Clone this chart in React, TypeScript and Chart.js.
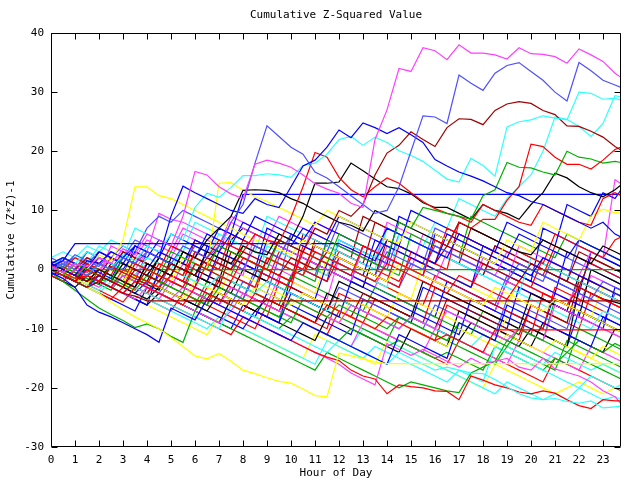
import React, { useEffect, useRef } from "react";
import { Chart, registerables } from "chart.js";

Chart.register(...registerables);

const _ = null;

const hours = [
  0, 0.5, 1, 1.5, 2, 2.5, 3, 3.5, 4, 4.5, 5, 5.5,
  6, 6.5, 7, 7.5, 8, 8.5, 9, 9.5, 10, 10.5, 11, 11.5,
  12, 12.5, 13, 13.5, 14, 14.5, 15, 15.5, 16, 16.5, 17, 17.5,
  18, 18.5, 19, 19.5, 20, 20.5, 21, 21.5, 22, 22.5, 23, 23.5,
  23.75,
];

const xTickValues = [0, 1, 2, 3, 4, 5, 6, 7, 8, 9, 10, 11, 12, 13, 14, 15, 16, 17, 18, 19, 20, 21, 22, 23];
const yTickValues = [-30, -20, -10, 0, 10, 20, 30, 40];

const RED = "#ff0000", GREEN = "#00b000", BLUE = "#0000ff", MAG = "#ff40ff", CYAN = "#30ffff",
  DRED = "#a00000", YEL = "#ffff00", BLK = "#000000", MBLUE = "#5050ff";

const s01 = [0.5,-0.5,1,0.5,2,1,3.5,2.5,6,5,4,9,
  16.6,16,14,12.8,12,17.8,18.5,18,17.3,16,14.5,13.6,
  12.9,11.2,10.5,22,27,34,33.5,37.5,37,35.5,38,36.6,
  36.6,36.3,35.6,37.5,36.5,36.4,36,34.9,37.3,36.3,35.2,33.2, 32.5];
const s02 = [0,1,0,-1,1,0,2,1,3,2,1,4,
  3,2,4,8,11,18,24.3,22.5,20.7,19.5,16.5,15.5,
  14,12.5,11,9.5,10,14,20,26,25.8,24.7,32.9,31.5,
  30.3,33.2,34.5,35,33.5,32,30,28.5,35,33.6,32,31.2, 30.8];
const s03 = [1,0,-1,1.5,1,3,2,4,3,2,9,14.1,
  13,12,11,10,9.5,12,11,10.5,14,17.5,18.5,20.7,
  23.6,22.3,24.8,24,23,24,22.8,21.5,18.6,17.5,16.5,15.8,
  15,14,13,12.5,11.5,11,10,9,8,7,8,6, 5.5];
const s04 = [0,1,0,-1,1,0,2.5,1.5,4,3,6,5,
  10.5,12.9,12.2,13.9,15.9,15.9,16.2,16,15.6,17.6,18,19.5,
  22,22.5,21,22.4,21.5,20.1,19.3,18.3,16.8,15.3,14.8,18.8,
  17.6,15.8,24.1,25,25.3,26,25.6,25.3,30,29.8,28.8,29, 28.6];
const s05 = [1,0,-1,-2,-1,-2,-3,0,-1,-2,1,0,
  -1,2,1,0,3,2,1,5,4,3,7,6,
  10,9,11,16,19.7,21,23.3,22,20.8,24,25.5,25.4,
  24.5,26.9,28,28.4,28.1,26.9,26.2,24.3,24.2,23.4,22.4,20.8, 20.2];
const s06 = [0,-1,-2,0,-1,-2,-3,1,0,-1,-2,-3,
  1,0,-1,-2,2,1,0,-1,-2,3,2,1,
  0,-1,4,3,2,1,0,-1,5,4,8,7,
  8.5,8.5,11.7,14,21.2,20.8,19,17.8,17.8,17,18.5,20.3, 20.7];
const s07 = [0,-1,1,0,-1,-2,2,1,0,-1,3,2,
  1,0,4,3,2,1,0,5,4,3,2,1,
  6,5,4,3,2,8,7,10.5,10,9.5,9,8.5,
  12.5,13.5,18.1,17.3,17.2,16.5,16,20,19,18.7,18,18.3, 18.1];
const s08 = [0.5,-0.5,-1.5,-1,-2,0.5,-0.5,-1.5,-2.5,1,0,-1,
  3,2,5,4,3,6,5,4.5,8.8,14,19.8,19,
  15.6,13.5,12.3,14,15.5,14.6,13,11.5,10.3,9.5,9,8,
  11,10,9,8,7.5,11,10,9,8,7.5,12,13, 12.5];
const s09 = [0,-1,-2,0,-1,-2,1,0,-1,2,1,0,
  -1,3,2,1,4,3,2.5,6,5,9,14.6,14.6,
  14.8,18,16.7,15.3,14,13.7,12.8,11.3,10.5,10.5,9.5,8.5,
  11,10,9.5,8.5,11,13,16.3,15.5,14,13,12.3,13.5, 14.3];
const s10 = [1,0,-1,-2,0,-1,-2,-3,1,0,-1,3,
  2,5,7,9,13.4,13.5,13.4,13,12,11.2,10,9,
  8,7.5,6.5,10,9,8,7,6,5,4,8,7,
  6,5,4,3,2.5,5,4,3,2,1,4,3, 2.5];
const s11 = [0,-1,1,0,2.5,1.5,5,14,14,12.5,12,11,
  10,9,8,7,6,5,4.5,3.5,2.5,5,4,3,
  2,1,0,-1,-2,1,0,-1,-2,-3,-4,-5,
  -6,-3,-4,-5,-6,-7,-5,-6,-7,-8,-9,-10, -10.5];
const s12 = [0.5,-0.5,-1.5,-2.5,0,-1,-2,1,0,-1,-2,2,
  1,0,14.6,14.7,13.4,12.3,11.5,10.5,9.5,8.5,7.5,10,
  9,8,7,6,5,4.5,8,7,6,5,4,3,
  2,1,5,4,3,8,7,6,5,9,10.2,9.6, 9.8];
const h01 = [0,-1,-2,0.5,-0.5,-1.5,2,1,0,3,2,1,
  5,4,3,6,12.7,_,_,_,_,_,_,_,
  _,_,_,_,_,_,_,_,_,_,_,_,
  _,_,_,_,_,_,_,_,_,_,_,_, 12.7];
const h02 = [0.5,1.5,4.4,_,_,_,_,_,_,_,_,_,
  _,_,_,_,_,_,_,_,_,_,_,_,
  4.4,3.5,2.5,1.5,5,4,3,2,1,6,5,4,
  3,2,1,0,-1,2,1,0,-1,-2,-3,-4, -4.5];
const h03 = [0,-1,-2,-3,-2,-3,-4,-4.5,-5.3,_,_,_,
  _,_,_,_,_,_,_,_,_,_,_,_,
  _,_,_,_,_,_,_,_,_,_,_,_,
  _,_,_,_,_,_,_,_,_,_,_,_, -5.3];
const h04 = [0,-1,-1.5,0.5,0,_,_,_,_,_,_,_,
  _,_,_,_,_,_,_,_,_,_,_,_,
  _,_,_,_,_,_,_,_,_,_,_,_,
  _,_,_,_,_,_,_,_,_,_,_,_, 0];
const h05 = [0,-1,-2,-1,-2,-3,-4,-2,-3,-4,-5,-6,
  -3,-4,-5,-6,-7,-4,-5,-6,-7,-8,-9,-6,
  -7,-8,-9,-10,-8,-9,-10,-11,-12,-11,-12,-13,
  -14,-10.2,_,_,_,_,_,_,_,_,_,_, -10.2];
const h06 = [0,-1,-2,-3,-4,-5.5,-6.8,-8,-9,-10,-11.5,-13,
  -14.6,-15.1,-14.2,-15.5,-17,-17.6,-18.3,-18.9,-19.2,-20.2,-21.3,-21.5,
  -14.1,-14.6,-15.1,-15.6,-15.9,_,_,_,_,_,_,_,
  _,_,_,_,_,_,_,_,_,_,_,_, -15.9];
const b01 = [-0.5,-1.5,-3,-6,-7.2,-8,-9,-10,-11,-12.3,-6.5,-7.5,
  -8.5,-5,-6,-7,-8,-9,-10,-11,-12,-9,-10,-11,
  -12,-13,-14,-15,-16,-11,-12,-13,-14,-15,-9,-10,
  -11,-12,-6,-7,-8,-9,-10,-11,-12,-13,-8,-9, -9.5];
const b02 = [0,-1,-1.5,-2.5,-3.5,-1,-2,-3,-4,-5,-6,-7,
  -8,-9,-10,-6,-7,-8,-9,-10,-11,-12,-13,-14,
  -12,-13,-14,-15,-16,-14,-15,-16,-17,-16.5,-17,-17.5,
  -17.6,-18.6,-19.8,-21,-21.7,-22,-21.8,-22.3,-22.6,-22.2,-23.4,-23.2, -23.1];
const b03 = [0.5,-0.5,-1.5,-2.5,-3.5,-4.5,-5.5,-3,-4,-5,-6,-7,
  -8,-9,-10,-11,-8,-9,-10,-11,-12,-13,-14,-14.8,
  -15.4,-17,-18,-18.5,-21,-19.5,-19.8,-20,-20.5,-20.6,-22,-18,
  -18.7,-19.5,-20,-20.7,-21,-20.5,-20.9,-22,-23,-23.5,-22,-22.2, -22.2];
const b04 = [0,-1,-2,-1,-2,-3,-4,-5,-3,-4,-5,-6,
  -7,-8,-9,-7,-8,-9,-10,-11,-12,-13,-14,-15,
  -16,-17.5,-18.5,-19.5,-12.5,-13.5,-14.5,-13.5,-14.5,-15.5,-16.5,-15,
  -16,-15.5,-15,-16.5,-17,-15,-16.8,-17.4,-18,-19,-20.5,-21.5, -22.7];
const b05 = [-0.5,-2,-3.5,-5,-6.5,-7.6,-8.6,-9.8,-9.2,-10,-11.3,-12.3,
  -7,-8,-9,-10,-11,-12,-13,-14,-15,-16,-17,-14,
  -15,-16,-17,-18,-19,-20,-19,-19.5,-20,-20.5,-20.8,-17.5,
  -16.5,-15.5,-12,-13,-14,-15,-16,-14,-15,-16,-17,-18, -18.5];
const f01 = [1,2,1,0,3,2,1,4,3,2,6,5, 4,3,7,6,5,9,8,7,6,5,8,7, 6,5,4,3,7,6,5,4,3,2,6,5, 4,3,2,6,5,4,3,2,5,4,3,2, 1.5];
const f02 = [0,-1,-2,-1,-2,-3,0,-1,-2,-3,-1,-2, -3,1,0,-1,-2,-3,2,1,0,-1,3,2, 1,0,-1,-2,1,0,-1,-2,-3,-4,-1,-2, -3,-4,-5,-2,-3,-4,-5,-6,-3,-4,-5,-6, -6.5];
const f03 = [1.5,0.5,2.5,1.5,0.5,3,2,5,4,3,2,1, 4,3,2,1,0,4,3,2,6,5,4,3, 2,1,0,-1,3,2,1,0,4,3,2,1, 0,-1,-2,1,0,-1,-2,-3,-4,-5,-2,-3, -3.5];
const f04 = [0,1,0,-1,-2,-1.5,-2.5,-3.5,-1,-2,-3,-4, -5,-6,-3,-4,-5,-6,-7,-8,-5,-6,-7,-8, -6,-7,-8,-9,-10,-8,-9,-10,-11,-12,-9,-10, -11,-12,-13,-10,-11,-12,-13,-14,-12,-13,-14,-12.5, -13];
const f05 = [-0.5,-1.5,0,-1,-2,-3,-1,-2,-3,-4,-5,-3, -4,-5,-6,-3,-4,-5,-6,-7,-5,-6,-7,-8, -9,-6,-7,-8,-9,-10,-8,-9,-10,-7,-8,-9, -10,-11,-12,-10,-11,-12,-6,-7,-8,-9,-10,-11, -11.5];
const f06 = [0.5,2,1,3,2,1,0,-1,2,1,0,-1, -2,-3,-1,-2,-3,-4,-2,-3,-4,-5,-6,-7, -5,-6,-7,-8,-9,-10,-8,-9,-10,-11,-12,-13, -11,-12,-13,-14,-15,-16,-14,-15,-16,-17,-16,-17, -17.5];
const f07 = [0,1,0,2,1,0,3,2,1,0,-1,3, 2,1,4,3,2,1,0,-1,2,1,0,3, 2,1,0,-1,5,4,3,2,1,4,3,2, 1,0,-1,-2,1,0,-1,-2,-3,2,1,0, -0.5];
const f08 = [0,-1,1,0,-1,-2,-3,-1,-2,-3,-4,-5, -2,-3,-4,-5,-6,-3,-4,-5,-6,-4,-5,-6, -7,-8,-9,-10,-8,-9,-10,-11,-12,-13,-10,-11, -12,-13,-11,-12,-13,-14,-12,-13,-14,-15,-13,-14, -14.5];
const f09 = [0,-1,-2,0,-1,-2,-3,-4,-5,-3,-4,-5, -6,-7,-4,-5,-6,-7,-5,-6,-7,-8,-9,-4, -5,-6,-7,-8,-9,-10,-8,-9,-10,-11,-12,-9, -10,-11,-12,-13,-10,-11,-12,-13,-3,-4,-5,-5.5, -5.8];
const f10 = [-0.5,-1,-2,-3,-1,-2,-3,-4,-2,-3,-4,-5, -6,-7,-8,-9,-10,-7,-8,-9,-4,-5,-6,-7, -8,-2,-3,-4,-5,-6,-7,-8,-9,-10,-11,-5, -6,-7,-8,-9,-10,-11,-12,-13,-7,-8,-9,-10, -10.5];
const f11 = [1,0,2,1,0,-1,3,2,1,0,4,3, 2,1,0,6,5,4,3,2,1,0,4,3, 2,1,0,-1,-2,-3,3,2,1,7,6,5, 4,3,2,1,0,-1,4,3,2,1,0,-1, -1.5];
const f12 = [0,-1,-2,-3,-4,-2,-3,-4,-5,-6,-7,-8, -9,-10,-8,-9,-10,-11,-12,-13,-14,-15,-16,-12, -13,-14,-15,-13,-14,-15,-16,-17,-18,-19,-17,-18, -19,-13,-14,-15,-16,-17,-18,-19,-20,-18,-19,-20, -19.5];
const f13 = [0,0.5,-0.5,-1.5,-2.5,-3.5,-1,-2,-3,-4,-5,-6, -7,-4,-5,-6,-7,-8,-9,-10,-8,-9,-10,-11, -12,-10,-11,-12,-13,-12,-13,-14,-15,-14,-15,-16, -17,-13,-14,-15,-16,-17,-15,-16,-10,-11,-12,-13, -13.5];
const f14 = [0.5,-0.5,1,0,2,1,0,3,2,5,4,3, 2,6,5,4,8,7,6,5,4,7,6,5, 9,8,7,6,5,4,10,9,8,7,6,5, 4,3,8,7,6,5,4,11,10,9,13,12, 13.5];
const f15 = [1,0,-1,1,0,-1,-2,2,1,0,-1,-2, 3,2,1,0,5,4,3,2,1,0,-1,-2, 2,1,0,-1,-2,4,3,2,1,0,8,7, 6,5,4,3,2,1,6,5,4,3,2,5, 5.5];
const f16 = [0,1.5,0.5,-0.5,2,1,0,-1,1,0,-1,-2, 3,2,1,0,-1,6,5,4,3,2,1,0, -1,-2,4,3,2,1,0,-1,-2,3,2,1, 0,-1,-2,4,3,2,1,0,-1,3,2,15.2, 14.5];
const f17 = [2,3,2,4,3,5,4,3,2,1,0,4, 3,2,6,5,4,3,2,1,0,-1,3,2, 1,0,-1,-2,-3,6,5,4,3,2,1,0, -1,-2,-3,-4,2,1,0,-1,-2,-3,-4,-5, -5.5];
const f18 = [0,-1,-2,-1,0,-1,-2,-3,0,-1,-2,-3, -4,-5,-2,-3,-4,-5,-6,-7,-3,-4,-5,-6, -7,-8,-4,-5,-6,-7,-8,-9,-10,-5,-6,-7, -8,-9,-10,-11,-6,-7,-8,-9,-2,-3,-4,-5, -5.5];
const f19 = [1,0,-1,-2,1,0,-1,3,2,1,0,-1, -2,-3,-4,0,-1,-2,-3,-4,-5,-6,-7,-8, -9,-5,-6,-7,-8,-4,-5,-6,-7,-8,-9,-10, -11,-12,-8,-9,-10,-11,-12,-13,-14,-15,-16,-17, -17.5];
const f20 = [0,1,0,-1,-2,1,0,-1,-2,2,1,0, -1,-2,-3,-4,0,-1,-2,-3,-4,-5,-6,-7, -2,-3,-4,-5,-6,-7,-8,-2,-3,-4,-5,-6, -7,-8,-9,-10,-4,-5,-6,-7,-8,0,-1,-2, -2.5];
const f21 = [2,1,0,3,2,1,0,-1,-2,-3,1,0, -1,-2,-3,-4,-5,-1,-2,-3,-4,-5,-6,-7, -3,-4,-5,-6,-7,-8,-9,-10,-6,-7,-8,-9, -10,-11,-5,-6,-7,-8,-9,-10,-4,-5,-6,-7, -7.5];
const f22 = [0.5,-0.5,-1.5,1,0,-1,-2,2,1,0,-1,3, 2,1,0,-1,4,3,2,1,0,-1,-2,5, 4,3,2,1,0,-1,6,5,4,3,2,9, 8,7,6,5,4,3,2,6,5,4,3,2, 1.5];
const f23 = [-1,0,-1,-2,0,-1,-2,-3,1,0,-1,-2, -3,4,3,2,1,0,7,6,5,4,3,2, 1,0,-1,5,4,3,2,1,0,-1,-2,-3, 4,3,2,1,0,-1,-2,-3,-4,3,2,1, 0.5];
const f24 = [-1,-2,0,-1,-2,-3,-4,-2,-3,-4,-5,-6, -7,-3,-4,-5,-6,-7,-8,-2,-3,-4,-5,-6, -7,-8,-9,-5,-6,-7,-8,-9,-3,-4,-5,-6, -7,-8,-9,-10,-11,-4,-5,-6,-7,-8,-9,-10, -10.5];
const f25 = [0,-1,1,0,-1,4,3,2,5,4,3,7, 6,5,4,9,8,7,6,5,4,3,8,7, 6,5,4,3,2,1,0,6,5,4,3,2, 1,0,-1,-2,-3,-4,-5,-6,-2,-3,-4,-5, -5.5];
const f26 = [1,0,2,1,4,3,2,7,6,5,4,3, 8,7,6,5,4,3,9,8,7,6,5,4, 3,2,1,0,7,6,5,4,3,2,1,0, -1,-2,-3,-4,-5,-6,-7,-8,-9,-10,-7,-8, -8.5];
const f27 = [0,-1,-2,-3,-2,-3,-4,-5,-6,0,-1,-2, -3,-4,-5,-6,-7,-8,-4,-5,-6,-7,-8,-9, -10,-11,-5,-6,-7,-8,-9,-3,-4,-5,-6,-7, -8,-9,-10,-3,-4,-5,-6,-7,-8,-9,-10,-3, -3.5];
const f28 = [0,1,0,3,2,1,0,-1,2,1,0,-1, 5,4,3,2,1,0,-1,-2,-3,4,3,2, 1,0,-1,-2,-3,-4,-5,-6,-1,-2,-3,-4, -5,-6,-7,-8,-9,-10,-3,-4,-5,-6,-7,-8, -8.5];
const f29 = [1,2,1,0,-1,2,1,0,-1,-2,1,0, -1,-2,-3,3,2,1,0,-1,-2,6,5,4, 3,2,1,8,7,6,5,4,3,2,1,0, -1,4,3,2,1,0,-1,-2,3,2,1,0, -0.5];
const f30 = [1,0,-1,2,1,0,-1,-2,-3,-4,-1,-2, -3,-4,-5,-6,-2,-3,-4,2,1,0,-1,5, 4,3,2,1,0,6,5,4,3,2,1,0, -1,4,3,2,1,0,-1,-2,5,4,3,2, 1.5];
const f31 = [0,1,0,-1,2,1,0,-1,-2,-3,1,0, -1,-2,-3,3,2,1,0,-1,-2,-3,-4,2, 1,0,-1,-2,-3,-4,-5,1,0,-1,-2,-3, -4,-5,-6,-2,-3,-4,-5,-6,-7,-8,-3,-4, -4.5];
const f32 = [-1,-2,-3,-1,-2,-3,-4,-5,-6,-4,-5,-6, -7,-8,-9,-5,-6,-7,-8,-9,-10,-11,-12,-8, -9,-10,-11,-12,-13,-14,-10,-11,-12,-13,-7,-8, -9,-10,-11,-12,-13,-9,-10,-11,-12,-13,-14,-10, -10.5];
const f33 = [1,2,1,0,-1,-2,1,0,-1,-2,-3,-4, 1,0,-1,-2,-3,-4,-5,-6,-1,-2,-3,-4, -5,-6,-7,-3,-4,-5,-6,-7,-8,-9,-10,-11, -7,-8,-9,-10,-11,-12,-5,-6,-7,-8,-9,-10, -10.5];
const f34 = [0,2,1,0,3,2,1,0,-1,2,1,0, -1,-2,3,2,1,0,-1,-2,-3,-4,-5,1, 0,-1,-2,-3,-4,-5,-6,-7,-8,-2,-3,-4, -5,-6,-7,-8,-9,-10,-4,-5,-6,-7,-8,-9, -9.5];
const f35 = [0,-1,-2,1,0,-1,-2,-3,-4,-2,-3,-4, -5,-6,-1,-2,-3,-4,-5,-6,-7,-8,-9,-10, -4,-5,-6,-7,-8,-9,-10,-11,-12,-6,-7,-8, -9,-10,-11,-12,-6,-7,-8,-9,-10,-4,-5,-6, -6.5];
const f36 = [0,1,0,2,1,3,2,1,4,3,2,6, 5,4,3,8,7,6,5,9,8,7,6,5, 4,3,2,1,8,7,6,5,4,3,2,1, 0,-1,3,2,1,0,-1,-2,-3,-4,-5,-6, -6.5];
const f37 = [0,-1,-2,0,-1,-2,-3,1,0,-1,-2,-3, 2,1,0,-1,-2,-3,4,3,2,1,0,-1, 5,4,3,2,7,6,5,4,8,7,12,11, 10,9,12,14,16,20,25.8,25.4,24.2,22.5,24.7,29.4, 29.2];
const f38 = [0,1,2,1,3,2,4,3,7,9,8,10, 9,8,7,6,5,4,3,2,6,5,4,3, 2,1,0,-1,-2,-3,1,0,-1,-2,-3,-4, -5,-6,-1,-2,-3,-4,-5,-6,-7,-8,-9,-4, -4.5];
const f39 = [1,0,-1,1,0,2,1,0,3,9.5,8.5,8, 7,6,5,4,3,2,1,0,-1,3,2,1, 0,-1,-2,-3,2,1,0,-1,-2,-3,-4,-5, -6,-7,-2,-3,-4,-5,-6,-7,-8,-9,-10,-11, -11.5];
const f40 = [0,-1,1,0,-1,2,1,0,-1,-2,1,0, -1,-2,2,1,0,-1,-2,3,2,1,0,-1, 3,2,1,0,-1,-2,2,1,0,-1,-2,-3, 1,0,-1,-2,-3,2,1,0,-1,-2,-3,-4, -4.5];
const f41 = [0.5,1.5,0.5,-0.5,1,0,-1,4,3,2,1,0, -1,3,2,1,0,-1,5,4,3,2,1,0, -1,-2,4,3,2,1,0,-1,6,5,4,3, 2,1,0,-1,-2,7,6,5,4,3,2,1, 0.5];
const f42 = [0,-1,-2,-3,0,-1,-2,-3,-4,-1,-2,-3, -4,-5,-6,-2,-3,-4,2,1,0,-1,5,4, 3,2,9,8,7,6,5,4,3,2,1,7, 6,5,4,3,2,1,0,-1,-2,-3,-4,-5, -5.5];
const f43 = [1,0,-1,-2,-3,-1,-2,-3,-4,-5,-2,-3, -4,-5,-6,-7,-4,-5,-6,-7,-8,-9,-10,-11, -12,-13,-9,-10,-11,-12,-13,-14,-10,-11,-12,-13, -14,-15,-16,-12,-13,-14,-15,-16,-17,-13,-14,-15, -15.5];
const f44 = [0,1,0,-1,-2,-3,-1,-2,3,2,1,0, -1,-2,-3,-4,-5,0,-1,-2,6,5,4,3, 8,7,6,5,4,3,2,1,7,6,5,4, 3,2,1,0,-1,-2,3,2,1,0,-1,-2, -2.5];
const f45 = [0,-1,-2,0,-1,-2,-3,-1,-2,-3,-4,-5, -6,-2,-3,-4,-5,-6,-7,-8,-9,-5,-6,-7, -8,-9,-10,-11,-12,-8,-9,-10,-11,-12,-13,-14, -15,-16,-13,-14,-15,-16,-17,-12,-13,-14,-15,-16, -16.5];
const f46 = [0,1,2,1,0,-1,-2,1,0,-1,-2,-3, -4,-5,-6,-3,-4,-5,-6,-7,-8,-9,-10,-11, -12,-13,-10,-11,-12,-13,-14,-15,-16,-17,-18,-19, -20,-21,-19,-20,-21,-22,-21,-22,-20,-21,-22,-21.5, -22];
const f47 = [0,0.5,-0.5,-1.5,-2.5,0.5,-0.5,-1.5,-2.5,-3.5,2,1, 0,-1,-2,5,7,6,5,4,3,2,1,0, -1,-2,-3,3,2,1,0,-1,-2,-3,-4,-5, -6,-7,-2,-3,-4,-5,-6,-7,-1,-2,-3,-4, -4.5];
const f48 = [0,-1,-2,-3,-4,-5,-3,-4,-5,-6,-7,-4, -5,-6,-7,-8,-9,-10,-6,-7,-8,-9,-10,-11, -7,-8,-9,-10,-11,-12,-13,-14,-15,-16,-12,-13, -14,-15,-16,-17,-18,-19,-15,-16,-17,-18,-19,-20, -20.5];
const f49 = [0,-1,-2,-3,-4,-5,-6,-7,-3,-4,-5,-6, -7,-8,-9,-10,-6,-7,-8,-9,-1,0,-1,-2, 5,4,3,2,1,9,8,7,6,5,4,3, 2,1,0,-1,-2,-3,-4,3,2,1,0,-1, -1.5];
const f50 = [0,-1,-2,-1,-2,-3,-4,-5,-6,-7,-8,-9, -10,-11,-8,-9,-10,-11,-12,-13,-14,-15,-11,-12, -13,-14,-15,-16,-12,-13,-14,-15,-16,-17,-18,-19, -20,-16,-17,-18,-19,-20,-21,-20,-19,-20,-21,-20, -20.5];
const f51 = [1,2,1,0,3,2,1,0,-1,-2,-3,1, 0,-1,-2,-3,-4,-5,-6,-1,-2,-3,-4,-5, 2,1,0,-1,4,3,2,1,0,-1,-2,-3, 2,1,0,-1,-2,-3,-4,-5,-6,-1,-2,-3, -3.5];

const seriesList = [
  s01, s02, s03, s04, s05, s06, s07, s08, s09, s10, s11, s12,
  h01, h02, h03, h04, h05, h06, b01, b02, b03, b04, b05,
  f01, f02, f03, f04, f05, f06, f07, f08, f09, f10, f11, f12, f13, f14, f15, f16, f17, f18, f19, f20,
  f21, f22, f23, f24, f25, f26, f27, f28, f29, f30, f31, f32, f33, f34, f35, f36, f37, f38, f39,
  f40, f41, f42, f43, f44, f45, f46, f47, f48, f49, f50, f51,
];
const seriesColors = [
  MAG, MBLUE, BLUE, CYAN, DRED, RED, GREEN, RED, BLK, BLK, YEL, YEL,
  BLUE, BLUE, DRED, GREEN, RED, YEL, BLUE, CYAN, RED, MAG, GREEN,
  BLUE, RED, MBLUE, GREEN, MAG, CYAN, DRED, YEL, BLK, BLUE, RED, CYAN, GREEN, BLUE, RED, MAG, CYAN, DRED, YEL, BLK,
  MBLUE, GREEN, BLUE, RED, MAG, CYAN, BLUE, RED, DRED, MBLUE, YEL, BLK, GREEN, BLUE, RED, MAG, CYAN, MBLUE, MAG,
  RED, BLUE, DRED, MAG, MBLUE, GREEN, CYAN, BLK, RED, BLUE, YEL, MAG,
];

const FONT = "'DejaVu Sans Mono', monospace";

const framePlugin = {
  id: "gnuplotFrame",
  afterDatasetsDraw(chart: any) {
    const { ctx, chartArea, scales } = chart;
    const L = Math.round(chartArea.left) + 0.5;
    const R = Math.round(chartArea.right) - 0.5;
    const T = Math.round(chartArea.top) + 0.5;
    const B = Math.round(chartArea.bottom) - 0.5;
    ctx.save();
    ctx.strokeStyle = "#000";
    ctx.lineWidth = 1;
    ctx.beginPath();
    ctx.rect(L, T, R - L, B - T);
    for (const v of xTickValues) {
      const px = Math.round(scales.x.getPixelForValue(v)) + 0.5;
      ctx.moveTo(px, B); ctx.lineTo(px, B - 6);
      ctx.moveTo(px, T); ctx.lineTo(px, T + 6);
    }
    for (const v of yTickValues) {
      const py = Math.round(scales.y.getPixelForValue(v)) + 0.5;
      ctx.moveTo(L, py); ctx.lineTo(L + 6, py);
      ctx.moveTo(R, py); ctx.lineTo(R - 6, py);
    }
    ctx.stroke();
    ctx.restore();
  },
};

export default function App() {
  const ref = useRef<HTMLCanvasElement>(null);
  useEffect(() => {
    const datasets = seriesList.map((data, i) => ({
      data,
      borderColor: seriesColors[i],
      backgroundColor: seriesColors[i],
      borderWidth: 1.2,
      pointRadius: 0,
      tension: 0,
      fill: false,
      spanGaps: true,
    }));
    const chart = new Chart(ref.current as HTMLCanvasElement, {
      type: "line",
      data: { labels: hours, datasets },
      options: {
        animation: false,
        responsive: false,
        events: [],
        layout: { padding: { left: 0, right: 19, top: 0, bottom: 0 } },
        plugins: {
          legend: { display: false },
          tooltip: { enabled: false },
          title: {
            display: true,
            text: "Cumulative Z-Squared Value",
            fullSize: false,
            color: "#000",
            font: { family: FONT, size: 11, weight: "normal" },
            padding: { top: 8.5, bottom: 11.3 },
          },
        },
        scales: {
          x: {
            type: "linear",
            min: 0,
            max: 23.75,
            grid: { display: false, drawTicks: false },
            border: { display: false },
            ticks: {
              stepSize: 1,
              includeBounds: false,
              autoSkip: false,
              maxRotation: 0,
              padding: 7,
              color: "#000",
              font: { family: FONT, size: 11 },
            },
            title: {
              display: true,
              text: "Hour of Day",
              color: "#000",
              font: { family: FONT, size: 11 },
              padding: { top: 0, bottom: 0 },
            },
            afterFit: (scale: any) => { scale.height = 33; },
          },
          y: {
            min: -30,
            max: 40,
            grid: { display: false, drawTicks: false },
            border: { display: false },
            ticks: {
              stepSize: 10,
              padding: 7,
              color: "#000",
              font: { family: FONT, size: 11 },
            },
            title: {
              display: true,
              text: "Cumulative (Z*Z)-1",
              color: "#000",
              font: { family: FONT, size: 11 },
              padding: { top: 4.5, bottom: 0 },
            },
            afterFit: (scale: any) => { scale.width = 51; },
          },
        },
      },
      plugins: [framePlugin],
    } as any);
    return () => chart.destroy();
  }, []);
  return (
    <div style={{ position: "fixed", left: 0, top: 0, width: 640, height: 480, background: "#fff" }}>
      <canvas ref={ref} width={640} height={480} style={{ display: "block", width: 640, height: 480 }} />
    </div>
  );
}
